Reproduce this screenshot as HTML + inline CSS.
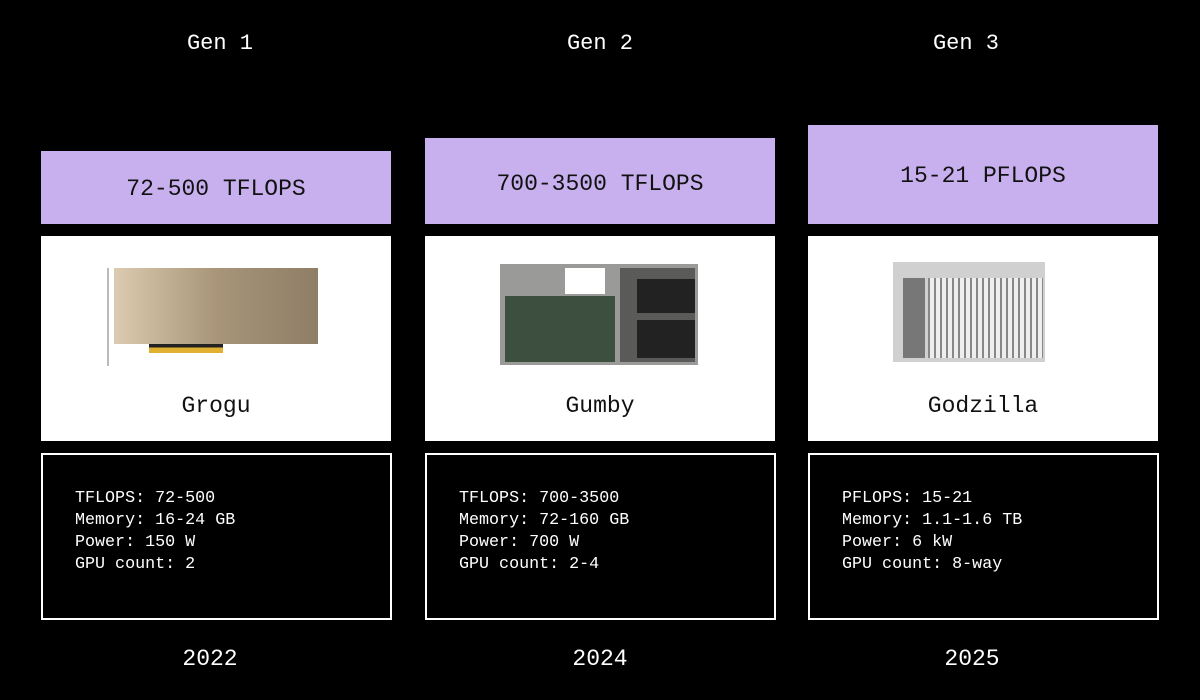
<!DOCTYPE html>
<html><head><style>
body{margin:0;width:1200px;height:700px;background:#000;position:relative;overflow:hidden;font-family:"Liberation Mono",monospace;color:#fff}
.a{position:absolute}
.h{position:absolute;width:350px;text-align:center;font-size:22px}
.p{position:absolute;background:#c8b0ee;color:#111;font-size:23px;text-align:center;width:350px}
.w{position:absolute;background:#fff;top:236px;height:205px;width:350px}
.n{position:absolute;top:155px;width:350px;text-align:center;color:#111;font-size:23px}
.b{position:absolute;top:453px;height:163px;width:347px;border:2px solid #fff}
.t{position:absolute;left:32px;top:33px;font-size:16.7px;line-height:22px;white-space:pre}
.y{position:absolute;top:646px;width:350px;text-align:center;font-size:23px}
</style></head><body>
<div class="h" style="left:45px;top:31px">Gen 1</div>
<div class="h" style="left:425px;top:31px">Gen 2</div>
<div class="h" style="left:791px;top:31px">Gen 3</div>

<div class="p" style="left:41px;top:151px;height:73px;line-height:77px">72-500 TFLOPS</div>
<div class="p" style="left:425px;top:138px;height:86px;line-height:93px">700-3500 TFLOPS</div>
<div class="p" style="left:808px;top:125px;height:99px;line-height:103px">15-21 PFLOPS</div>

<div class="w" style="left:41px">
 <div class="a" style="left:66px;top:32px;width:2px;height:98px;background:#bbb"></div>
 <div class="a" style="left:73px;top:32px;width:204px;height:76px;background:linear-gradient(90deg,#dccbb0,#a8957a 50%,#8e7e66)"></div>
 <div class="a" style="left:108px;top:108px;width:74px;height:9px;background:linear-gradient(#222 40%,#e0b030 40%)"></div>
 <div class="n" style="top:157px">Grogu</div>
</div>
<div class="w" style="left:425px">
 <div class="a" style="left:75px;top:28px;width:198px;height:101px;background:#9a9a98"></div>
 <div class="a" style="left:80px;top:60px;width:110px;height:66px;background:#3d5040"></div>
 <div class="a" style="left:195px;top:32px;width:75px;height:94px;background:#5a5a58"></div>
 <div class="a" style="left:212px;top:43px;width:58px;height:34px;background:#222"></div>
 <div class="a" style="left:212px;top:84px;width:58px;height:38px;background:#222"></div>
 <div class="a" style="left:140px;top:32px;width:40px;height:26px;background:#fff"></div>
 <div class="n" style="top:157px">Gumby</div>
</div>
<div class="w" style="left:808px">
 <div class="a" style="left:85px;top:26px;width:152px;height:100px;background:#d0d0d0"></div>
 <div class="a" style="left:120px;top:42px;width:115px;height:80px;background:repeating-linear-gradient(90deg,#888 0 2px,#eee 2px 6px)"></div>
 <div class="a" style="left:95px;top:42px;width:22px;height:80px;background:#777"></div>
 <div class="n" style="top:157px">Godzilla</div>
</div>

<div class="b" style="left:41px"><div class="t">TFLOPS: 72-500
Memory: 16-24 GB
Power: 150 W
GPU count: 2</div></div>
<div class="b" style="left:425px"><div class="t">TFLOPS: 700-3500
Memory: 72-160 GB
Power: 700 W
GPU count: 2-4</div></div>
<div class="b" style="left:808px"><div class="t">PFLOPS: 15-21
Memory: 1.1-1.6 TB
Power: 6 kW
GPU count: 8-way</div></div>

<div class="y" style="left:35px">2022</div>
<div class="y" style="left:425px">2024</div>
<div class="y" style="left:797px">2025</div>
</body></html>
